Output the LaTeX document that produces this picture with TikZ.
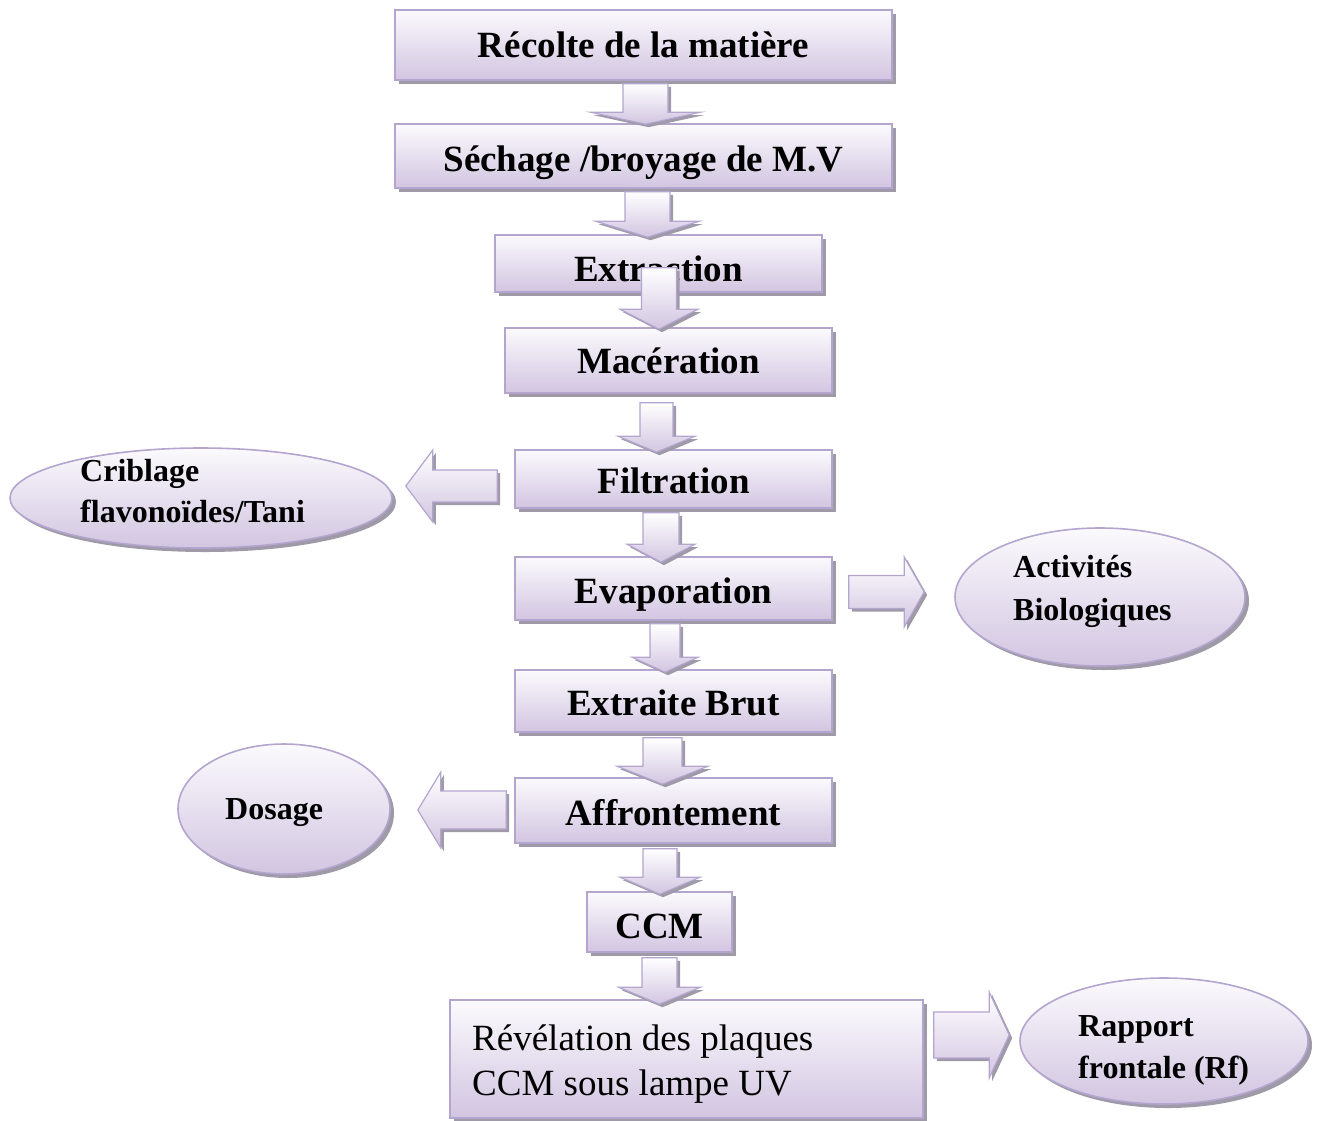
\documentclass[tikz,border=0pt]{standalone}
\usepackage{fontspec}
\setmainfont{Liberation Serif}
\usetikzlibrary{shapes.geometric,shadows,calc}
\definecolor{bordc}{HTML}{B4A5CF}
\definecolor{topc}{HTML}{FBFAFD}
\definecolor{botc}{HTML}{D2C5E1}
\definecolor{shadc}{HTML}{9E9AA8}
\tikzset{
  stepbox/.style={rectangle, draw=bordc, line width=1.6bp, top color=topc, bottom color=botc,
    drop shadow={shadow xshift=4bp, shadow yshift=-4bp, fill=shadc, opacity=1},
    inner sep=0pt, text depth=4bp, font=\bfseries\fontsize{37bp}{44bp}\selectfont},
  bl/.style={text height=#1bp},
  oval/.style={ellipse, draw=bordc, line width=1.6bp, top color=topc, bottom color=botc,
    drop shadow={shadow xshift=4bp, shadow yshift=-4bp, fill=shadc, opacity=1},
    inner sep=0pt},
  ovtxt/.style={anchor=base west, inner sep=0pt, font=\bfseries\fontsize{32bp}{40bp}\selectfont},
  revtxt/.style={anchor=base west, inner sep=0pt, font=\fontsize{37bp}{45bp}\selectfont},
  blockarr/.style={draw=bordc, line width=1.2bp, top color=white, bottom color=botc,
    drop shadow={shadow xshift=3bp, shadow yshift=-3bp, fill=shadc, opacity=1}},
}
% vertical arrow: src, tgt, xc, shaft half, head half, start offset, head length, tip overlap
\newcommand{\vdown}[8]{%
  \path[blockarr] let \p1=(#1.south), \p2=(#2.north) in
  ({(#3-#4)*1bp},{\y1-(#6bp)}) --
  ({(#3-#4)*1bp},{\y2-(#8bp)+(#7bp)}) --
  ({(#3-#5)*1bp},{\y2-(#8bp)+(#7bp)}) --
  ({#3*1bp},{\y2-(#8bp)}) --
  ({(#3+#5)*1bp},{\y2-(#8bp)+(#7bp)}) --
  ({(#3+#4)*1bp},{\y2-(#8bp)+(#7bp)}) --
  ({(#3+#4)*1bp},{\y1-(#6bp)}) -- cycle;}
% right arrow: src, tgt, yc, shaft half, head half, start offset, head length, tip gap
\newcommand{\hright}[8]{%
  \path[blockarr] let \p1=(#1.east), \p2=(#2.west) in
  ({\x1+(#6bp)},{-(#3-#4)*1bp}) --
  ({\x2-(#8bp)-(#7bp)},{-(#3-#4)*1bp}) --
  ({\x2-(#8bp)-(#7bp)},{-(#3-#5)*1bp}) --
  ({\x2-(#8bp)},{-#3*1bp}) --
  ({\x2-(#8bp)-(#7bp)},{-(#3+#5)*1bp}) --
  ({\x2-(#8bp)-(#7bp)},{-(#3+#4)*1bp}) --
  ({\x1+(#6bp)},{-(#3+#4)*1bp}) -- cycle;}
% left arrow: src, tgt, yc, shaft half, head half, start offset, head length, tip gap
\newcommand{\hleft}[8]{%
  \path[blockarr] let \p1=(#1.west), \p2=(#2.east) in
  ({\x1-(#6bp)},{-(#3-#4)*1bp}) --
  ({\x2+(#8bp)+(#7bp)},{-(#3-#4)*1bp}) --
  ({\x2+(#8bp)+(#7bp)},{-(#3-#5)*1bp}) --
  ({\x2+(#8bp)},{-#3*1bp}) --
  ({\x2+(#8bp)+(#7bp)},{-(#3+#5)*1bp}) --
  ({\x2+(#8bp)+(#7bp)},{-(#3+#4)*1bp}) --
  ({\x1-(#6bp)},{-(#3+#4)*1bp}) -- cycle;}
\begin{document}
\begin{tikzpicture}[x=1bp,y=-1bp]
\useasboundingbox (0,0) rectangle (1319,1120);
% boxes
\node[stepbox, bl=28, minimum width=497bp, minimum height=70bp] (b1) at (643.5,45) {Récolte de la matière};
\node[stepbox, bl=34, minimum width=497bp, minimum height=64bp] (b2) at (643.5,156) {Séchage /broyage de M.V};
\node[stepbox, bl=40, minimum width=327bp, minimum height=57bp] (b3) at (658.5,263.5) {Extraction};
\node[stepbox, bl=29, minimum width=327bp, minimum height=65bp] (b4) at (668.5,360.5) {Macération};
\node[stepbox, bl=33, minimum width=317bp, minimum height=58bp] (b5) at (673.5,479) {Filtration};
\node[stepbox, bl=34, minimum width=317bp, minimum height=63bp] (b6) at (673.5,588.5) {Evaporation};
\node[stepbox, bl=32, minimum width=317bp, minimum height=62bp] (b7) at (673.5,701) {Extraite Brut};
\node[stepbox, bl=34, minimum width=317bp, minimum height=65bp] (b8) at (673.5,810.5) {Affrontement};
\node[stepbox, bl=36, minimum width=145bp, minimum height=60bp] (b9) at (659.5,922) {CCM};
\node[stepbox, minimum width=473bp, minimum height=118bp] (b10) at (686.5,1059) {};
\node[revtxt] (r1) at (472,1050) {Révélation des plaques};
\node[revtxt] (r2) at (472,1095) {CCM sous lampe UV};
% ellipses
\node[oval, minimum width=382bp, minimum height=100bp] (e1) at (201,498) {};
\node[ovtxt] (e1a) at (80,481) {Criblage};
\node[ovtxt] (e1b) at (80,522) {flavonoïdes/Tani};
\node[oval, minimum width=290bp, minimum height=138bp] (e2) at (1100,597) {};
\node[ovtxt] (e2a) at (1013,577) {Activités};
\node[ovtxt] (e2b) at (1013,620) {Biologiques};
\node[oval, minimum width=212bp, minimum height=130bp] (e3) at (284,809) {};
\node[ovtxt] (e3a) at (225,819) {Dosage};
\node[oval, minimum width=288bp, minimum height=126bp] (e4) at (1164,1041) {};
\node[ovtxt] (e4a) at (1078,1036) {Rapport};
\node[ovtxt] (e4b) at (1078,1078) {frontale (Rf)};
% vertical arrows
\vdown{b1}{b2}{645.5}{22.5}{55}{3}{12}{1}
\vdown{b2}{b3}{647.5}{22.5}{52}{3}{16}{3}
\vdown{b3}{b4}{659}{17.5}{39}{-25}{20}{2}
\vdown{b4}{b5}{656.5}{16.5}{38.5}{9}{16}{3}
\vdown{b5}{b6}{661}{18}{34}{4}{18}{6}
\vdown{b6}{b7}{665}{15}{33}{3}{15}{3}
\vdown{b7}{b8}{662.5}{19.5}{45.5}{5}{18}{7}
\vdown{b8}{b9}{660}{17}{40}{5}{17}{3}
\vdown{b9}{b10}{659.5}{17.5}{41}{5}{17}{5}
% side arrows
\hleft{b5}{e1}{486}{16}{36}{17}{27}{13}
\hright{b6}{e2}{592}{16.5}{35}{16}{20}{30}
\hleft{b8}{e3}{810}{19}{38}{8}{23}{27}
\hright{b10}{e4}{1035}{23}{43}{10}{20}{10}
\end{tikzpicture}
\end{document}
